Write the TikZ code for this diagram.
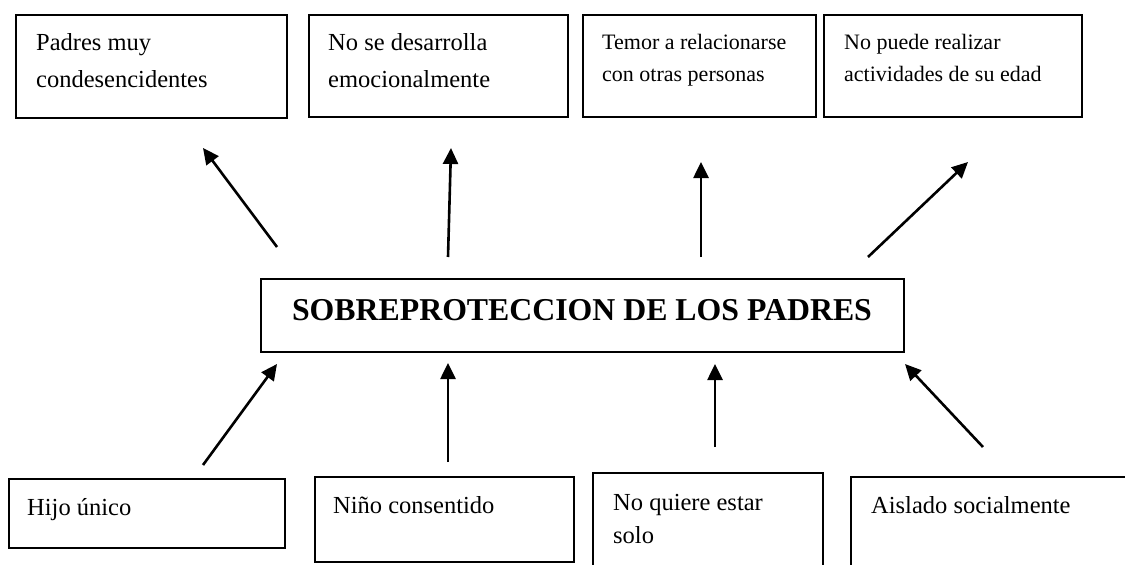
\documentclass[tikz,border=0pt]{standalone}
\usepackage{fontspec}
\setmainfont{Liberation Serif}
\usetikzlibrary{arrows.meta}
\begin{document}
\begin{tikzpicture}[x=1pt,y=-1pt,
  boxline/.style={draw=black,line width=1.7pt},
  txtbig/.style={inner sep=0pt,anchor=base west,font=\fontsize{24.5}{29}\selectfont},
  txtsmall/.style={inner sep=0pt,anchor=base west,font=\fontsize{22}{26}\selectfont},
  arr/.style={line width=2.6pt,-{Triangle[length=16pt,width=15pt]}}]
\clip (0,0) rectangle (1125,565);
\fill[white] (0,0) rectangle (1125,565);
% top boxes
\draw[boxline] (16,15) rectangle (287,118);
\draw[boxline] (309,15) rectangle (568,117);
\draw[boxline] (583,15) rectangle (816,117);
\draw[boxline] (824,15) rectangle (1082,117);
\node[txtbig] (t1a) at (36,50) {Padres muy};
\node[txtbig] (t1b) at (36,87) {condesencidentes};
\node[txtbig] (t2a) at (328,50) {No se desarrolla};
\node[txtbig] (t2b) at (328,87) {emocionalmente};
\node[txtsmall] (t3a) at (602,49) {Temor a relacionarse};
\node[txtsmall] (t3b) at (602,81) {con otras personas};
\node[txtsmall] (t4a) at (844,49) {No puede realizar};
\node[txtsmall] (t4b) at (844,81) {actividades de su edad};
% center box
\draw[boxline] (261,279) rectangle (904,352);
\node[inner sep=0pt,anchor=base,font=\fontsize{31.8}{36}\selectfont\bfseries] (c) at (582,320) {SOBREPROTECCION DE LOS PADRES};
% bottom boxes
\draw[boxline] (9,479) rectangle (285,548);
\draw[boxline] (315,477) rectangle (574,562);
\draw[boxline] (593,473) rectangle (823,590);
\draw[boxline] (851,477) rectangle (1150,590);
\node[txtbig] (b1) at (27,515) {Hijo único};
\node[txtbig] (b2) at (333,513) {Niño consentido};
\node[txtbig] (b3a) at (613,510) {No quiere estar};
\node[txtbig] (b3b) at (613,543) {solo};
\node[txtbig] (b4) at (871,513) {Aislado socialmente};
% arrow coordinates
\coordinate (a1s) at (277,247); \coordinate (a1e) at (203,148);
\coordinate (a2s) at (448,257); \coordinate (a2e) at (451,148);
\coordinate (a3s) at (701,257); \coordinate (a3e) at (701,162);
\coordinate (a4s) at (868,257); \coordinate (a4e) at (968,162);
\coordinate (d1s) at (203,465); \coordinate (d1e) at (277,364);
\coordinate (d2s) at (448,462); \coordinate (d2e) at (448,363);
\coordinate (d3s) at (715,447); \coordinate (d3e) at (715,364);
\coordinate (d4s) at (983,447); \coordinate (d4e) at (905,364);
\draw[arr] (a1s) -- (a1e);
\draw[arr] (a2s) -- (a2e);
\draw[arr] (a3s) -- (a3e);
\draw[arr] (a4s) -- (a4e);
\draw[arr] (d1s) -- (d1e);
\draw[arr] (d2s) -- (d2e);
\draw[arr] (d3s) -- (d3e);
\draw[arr] (d4s) -- (d4e);
\end{tikzpicture}
\end{document}
